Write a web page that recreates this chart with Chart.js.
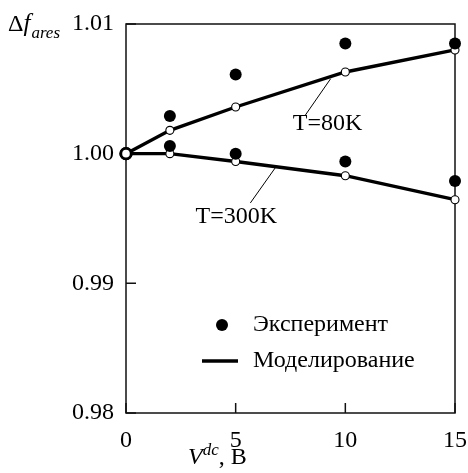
<!DOCTYPE html>
<html>
<head>
<meta charset="utf-8">
<script src="https://cdn.jsdelivr.net/npm/chart.js@4/dist/chart.umd.min.js"></script>
<style>
  html, body { margin: 0; padding: 0; background: #fff; }
</style>
</head>
<body>
<canvas id="c" width="468" height="473"></canvas>
<script>
// Bias voltage, V
const voltages = [0, 2, 5, 10, 15];
const expVoltages = [2, 5, 10, 15];
// Measured relative resonance shift
const exp80K = [1.0029, 1.0061, 1.0085, 1.0085];
const exp300K = [1.0006, 1.0000, 0.9994, 0.9979];
// Simulated relative resonance shift
const model80K = [1.0000, 1.0018, 1.0036, 1.0063, 1.0080];
const model300K = [1.0000, 1.0000, 0.9994, 0.9983, 0.99645];
// Axis ticks
const xTicks = [0, 5, 10, 15];
const yTicks = [0.98, 0.99, 1.00, 1.01];
// Text
const legendLabels = ['Эксперимент', 'Моделирование'];
const curveLabels = ['T=80K', 'T=300K'];

const serif = "'Liberation Serif', 'Times New Roman', serif";
const pts = (xs, ys) => xs.map((v, i) => ({ x: v, y: ys[i] }));

// Callout layout: label centre and leader line, in data coordinates
const callouts = [
  { text: curveLabels[0], from: [9.33, 1.00578], to: [8.18, 1.00298], at: [9.19, 1.00229] },
  { text: curveLabels[1], from: [6.81, 0.99892], to: [5.67, 0.99620], at: [5.03, 0.99512] }
];

const decor = {
  id: 'decor',
  beforeDatasetsDraw(chart) {
    const { ctx, chartArea: a, scales: { x, y } } = chart;
    ctx.save();
    ctx.strokeStyle = '#111';
    ctx.lineWidth = 1.5;
    ctx.strokeRect(a.left, a.top, a.right - a.left, a.bottom - a.top);
    ctx.beginPath();
    xTicks.forEach(v => { const p = x.getPixelForValue(v); ctx.moveTo(p, a.bottom); ctx.lineTo(p, a.bottom - 10); });
    yTicks.forEach(v => { const p = y.getPixelForValue(v); ctx.moveTo(a.left, p); ctx.lineTo(a.left + 10, p); });
    ctx.stroke();
    ctx.restore();
  },
  afterDatasetsDraw(chart) {
    const { ctx, chartArea: a, scales: { x, y } } = chart;
    ctx.save();
    ctx.fillStyle = '#000';
    ctx.strokeStyle = '#000';
    // curve callouts
    ctx.font = `24px ${serif}`;
    ctx.textAlign = 'center';
    ctx.textBaseline = 'middle';
    ctx.lineWidth = 1;
    callouts.forEach(c => {
      ctx.beginPath();
      ctx.moveTo(x.getPixelForValue(c.from[0]), y.getPixelForValue(c.from[1]));
      ctx.lineTo(x.getPixelForValue(c.to[0]), y.getPixelForValue(c.to[1]));
      ctx.stroke();
      ctx.fillText(c.text, x.getPixelForValue(c.at[0]), y.getPixelForValue(c.at[1]));
    });
    // legend
    const lx = a.left + 96, ly1 = a.top + 301, ly2 = a.top + 337;
    ctx.beginPath();
    ctx.arc(lx, ly1, 6, 0, Math.PI * 2);
    ctx.fill();
    ctx.lineWidth = 3.5;
    ctx.beginPath();
    ctx.moveTo(lx - 20, ly2);
    ctx.lineTo(lx + 16, ly2);
    ctx.stroke();
    ctx.textAlign = 'left';
    ctx.font = `24px ${serif}`;
    ctx.fillText(legendLabels[0], lx + 31, ly1);
    ctx.fillText(legendLabels[1], lx + 31, ly2);
    // y-axis title: Δf_ares
    ctx.textBaseline = 'alphabetic';
    let tx = 8;
    ctx.font = `24px ${serif}`;
    ctx.fillText('Δ', tx, 31); tx += ctx.measureText('Δ').width;
    ctx.font = `italic 25px ${serif}`;
    ctx.fillText('f', tx, 31); tx += ctx.measureText('f').width + 1;
    ctx.font = `italic 17px ${serif}`;
    ctx.fillText('ares', tx, 38);
    // x-axis title: V^dc, B
    tx = 188;
    ctx.font = `italic 24px ${serif}`;
    ctx.fillText('V', tx, 464); tx += ctx.measureText('V').width;
    ctx.font = `italic 17px ${serif}`;
    ctx.fillText('dc', tx, 455); tx += ctx.measureText('dc').width;
    ctx.font = `24px ${serif}`;
    ctx.fillText(', В', tx, 464);
    ctx.restore();
  }
};

new Chart(document.getElementById('c'), {
  type: 'scatter',
  data: {
    datasets: [
      { label: 'exp80', data: pts(expVoltages, exp80K), order: 0, clip: false,
        pointRadius: 6, pointBackgroundColor: '#000', pointBorderColor: '#000', pointBorderWidth: 0, showLine: false },
      { label: 'exp300', data: pts(expVoltages, exp300K), order: 0, clip: false,
        pointRadius: 6, pointBackgroundColor: '#000', pointBorderColor: '#000', pointBorderWidth: 0, showLine: false },
      { label: 'model80', data: pts(voltages, model80K), order: 1, clip: false, showLine: true,
        borderColor: '#000', borderWidth: 3.4,
        pointRadius: ctx => ctx.dataIndex === 0 ? 5.2 : 4,
        pointBorderWidth: ctx => ctx.dataIndex === 0 ? 2.8 : 1.1,
        pointBackgroundColor: '#fff', pointBorderColor: '#000' },
      { label: 'model300', data: pts(voltages, model300K), order: 1, clip: false, showLine: true,
        borderColor: '#000', borderWidth: 3.4,
        pointRadius: ctx => ctx.dataIndex === 0 ? 5.2 : 4,
        pointBorderWidth: ctx => ctx.dataIndex === 0 ? 2.8 : 1.1,
        pointBackgroundColor: '#fff', pointBorderColor: '#000' }
    ]
  },
  options: {
    responsive: false,
    animation: false,
    devicePixelRatio: 1,
    layout: { padding: { left: 0, right: 13, top: 24, bottom: 0 } },
    plugins: { legend: { display: false }, tooltip: { enabled: false } },
    scales: {
      x: {
        type: 'linear', min: 0, max: 15,
        afterBuildTicks: s => { s.ticks = xTicks.map(v => ({ value: v })); },
        afterFit: s => { s.height = 60; s.paddingLeft = 0; s.paddingRight = 0; },
        grid: { display: false, drawTicks: false },
        border: { display: false },
        ticks: { color: '#000', font: { family: serif, size: 24 }, padding: 13, maxRotation: 0 }
      },
      y: {
        type: 'linear', min: 0.98, max: 1.01,
        afterBuildTicks: s => { s.ticks = yTicks.map(v => ({ value: v })); },
        afterFit: s => { s.width = 126; s.paddingTop = 0; s.paddingBottom = 0; },
        grid: { display: false, drawTicks: false },
        border: { display: false },
        ticks: { color: '#000', font: { family: serif, size: 24 }, padding: 12,
                 callback: v => v.toFixed(2) }
      }
    }
  },
  plugins: [decor]
});
</script>
</body>
</html>
